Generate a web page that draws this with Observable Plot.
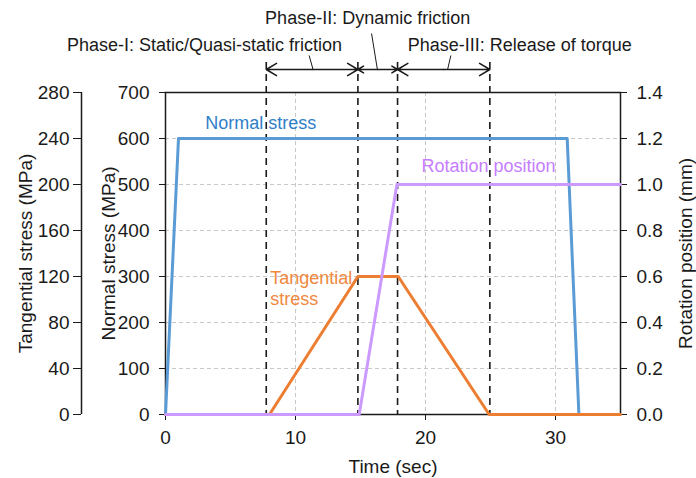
<!DOCTYPE html>
<html>
<head>
<meta charset="utf-8">
<script src="https://cdn.jsdelivr.net/npm/d3@7"></script>
<script src="https://cdn.jsdelivr.net/npm/@observablehq/plot@0.6"></script>
<style>
  html, body { margin: 0; padding: 0; background: #fff; }
  #chart svg { display: block; }
</style>
</head>
<body>
<div id="chart"></div>
<script>
// ---- data ----
const normalTime = [0, 1, 30.9, 31.8];
const normalStress = [0, 600, 600, 0];            // MPa
const tangentialTime = [0, 8, 14.8, 17.9, 24.9, 35];
const tangentialStress = [0, 0, 120, 120, 0, 0];  // MPa
const rotationTime = [0, 14.9, 17.8, 35];
const rotationPosition = [0, 0, 1, 1];            // mm
const phaseBoundaries = [7.75, 14.8, 17.85, 24.95]; // sec
const phaseNames = [
  "Phase-I: Static/Quasi-static friction",
  "Phase-II: Dynamic friction",
  "Phase-III: Release of torque"
];
const seriesNames = ["Normal stress", "Tangential\nstress", "Rotation position"];
const timeTicks = [0, 10, 20, 30];
const normalTicks = [0, 100, 200, 300, 400, 500, 600, 700];
const tangentialTicks = [0, 40, 80, 120, 160, 200, 240, 280];
const rotationTicks = [0, 0.2, 0.4, 0.6, 0.8, 1.0, 1.2, 1.4];

// ---- layout ----
const W = 696, H = 478;
const M = {top: 92, right: 76, bottom: 64, left: 165};
const xDomain = [0, 35];
const yMax = 700;
const TAN_K = yMax / 280;   // tangential -> normal-stress units
const ROT_K = yMax / 1.4;   // rotation -> normal-stress units
const innerH = H - M.top - M.bottom;
const above = (px) => yMax + px * yMax / innerH; // px above the frame top -> y value
const FONT = "Liberation Sans, Arial, Helvetica, sans-serif";

const colors = {normal: "#5b9bd5", tangential: "#ed7d31", rotation: "#cc99ff"};
const textColors = {normal: "#2f80c8", tangential: "#f0883e", rotation: "#c77dff"};

const normalData = normalTime.map((t, i) => ({t, v: normalStress[i]}));
const tangentialData = tangentialTime.map((t, i) => ({t, v: tangentialStress[i] * TAN_K}));
const rotationData = rotationTime.map((t, i) => ({t, v: rotationPosition[i] * ROT_K}));

// phase arrows: each segment drawn as two arrows from its middle outward
const segments = d3.pairs(phaseBoundaries);
const arrowData = segments.flatMap(([a, b]) => {
  const m = (a + b) / 2;
  return [{from: m, to: a}, {from: m, to: b}];
});
// annotation layout (positions of texts and leaders)
const phaseLayout = [
  {x: 3.0, h: 47, lx1: 11.35, lx2: 11.05, lh: 37},
  {x: 15.55, h: 74, lx1: 16.3, lx2: 15.85, lh: 59},
  {x: 27.25, h: 47, lx1: 21.7, lx2: 21.95, lh: 37}
];
const arrowH = 23;
const phaseLabelData = phaseNames.map((name, i) => ({name, ...phaseLayout[i]}));
const centeredLabels = [
  {name: seriesNames[0], x: 7.33, y: 634, fill: textColors.normal},
  {name: seriesNames[2], x: 24.85, y: 1.08 * ROT_K, fill: textColors.rotation}
];
const startLabels = [
  {name: seriesNames[1], x: 8.05, y: 110 * TAN_K, fill: textColors.tangential}
];

const ink = "#1a1a1a";
const titleOpts = {rotate: -90, textAnchor: "middle", lineAnchor: "middle", fontSize: 19, fill: ink};

const chart = Plot.plot({
  width: W,
  height: H,
  marginTop: M.top,
  marginRight: M.right,
  marginBottom: M.bottom,
  marginLeft: M.left,
  style: {fontFamily: FONT, fontSize: "19px", color: ink, background: "#fff"},
  x: {domain: xDomain, axis: null},
  y: {domain: [0, yMax], axis: null},
  marks: [
    // grids
    Plot.gridY(normalTicks.filter(d => d > 0 && d < yMax), {stroke: "#c8c8c8", strokeOpacity: 1, strokeDasharray: "4,3"}),
    Plot.gridX(timeTicks.filter(d => d > 0), {stroke: "#c8c8c8", strokeOpacity: 1, strokeDasharray: "4,3"}),
    Plot.frame({stroke: ink, strokeWidth: 1.5}),

    // inner left axis: normal stress
    Plot.axisY(normalTicks, {anchor: "left", tickSize: 6, tickPadding: 10, fontSize: 19, label: null, stroke: ink}),
    // outer left axis: tangential stress
    Plot.ruleX([xDomain[0]], {dx: -84, stroke: ink, strokeWidth: 1.5}),
    Plot.axisY(tangentialTicks.map(d => d * TAN_K), {anchor: "left", dx: -84, tickSize: 8, tickPadding: 4, fontSize: 19, label: null, stroke: ink,
      tickFormat: d => String(Math.round(d / TAN_K))}),
    // right axis: rotation position
    Plot.axisY(rotationTicks.map(d => d * ROT_K), {anchor: "right", tickSize: 6, tickPadding: 10, fontSize: 19, label: null, stroke: ink,
      tickFormat: d => (d / ROT_K).toFixed(1)}),
    // x axis
    Plot.axisX(timeTicks, {anchor: "bottom", tickSize: 6, tickPadding: 10, fontSize: 19, label: null, stroke: ink}),

    // axis titles
    Plot.text(["Tangential stress (MPa)"], {frameAnchor: "left", dx: -140, ...titleOpts}),
    Plot.text(["Normal stress (MPa)"], {frameAnchor: "left", dx: -57, ...titleOpts}),
    Plot.text(["Rotation position (mm)"], {frameAnchor: "right", dx: 65, ...titleOpts}),
    Plot.text(["Time (sec)"], {frameAnchor: "bottom", dy: 52, textAnchor: "middle", lineAnchor: "middle", fontSize: 19, fill: ink}),

    // phase boundaries
    Plot.ruleX(phaseBoundaries, {stroke: ink, strokeWidth: 1.6, strokeDasharray: "7,5", insetTop: -30}),

    // series
    Plot.line(normalData, {x: "t", y: "v", stroke: colors.normal, strokeWidth: 3}),
    Plot.line(tangentialData, {x: "t", y: "v", stroke: colors.tangential, strokeWidth: 3}),
    Plot.line(rotationData, {x: "t", y: "v", stroke: colors.rotation, strokeWidth: 3}),

    // phase arrows, leaders and labels
    Plot.arrow(arrowData, {x1: "from", x2: "to", y1: () => above(arrowH), y2: () => above(arrowH),
      stroke: ink, strokeWidth: 1.5, headLength: 12, headAngle: 62}),
    Plot.link(phaseLabelData, {x1: "lx1", x2: "lx2", y1: () => above(arrowH), y2: d => above(d.lh), stroke: ink, strokeWidth: 1}),
    Plot.text(phaseLabelData, {x: "x", y: d => above(d.h), text: "name", fontSize: 18, fill: ink}),

    // series labels
    Plot.text(centeredLabels, {x: "x", y: "y", text: "name", fill: "fill", textAnchor: "middle", fontSize: 18}),
    Plot.text(startLabels, {x: "x", y: "y", text: "name", fill: "fill", textAnchor: "start", fontSize: 18, lineHeight: 1.17})
  ]
});

document.getElementById("chart").appendChild(chart);
</script>
</body>
</html>
